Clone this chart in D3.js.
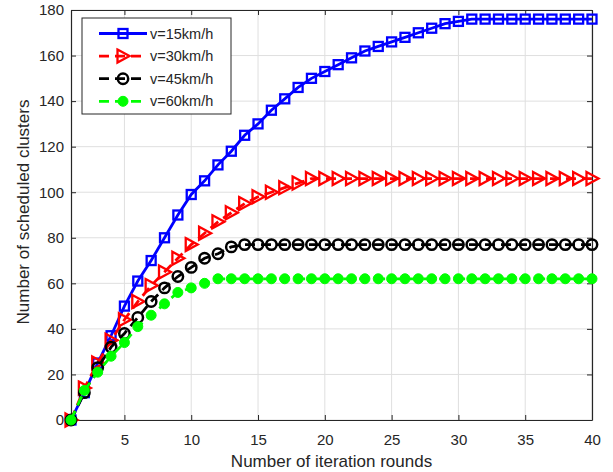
<!DOCTYPE html>
<html>
<head>
<meta charset="utf-8">
<script src="https://cdn.jsdelivr.net/npm/d3@7"></script>
<style>
  body { margin: 0; background: white; }
  text { font-family: "Liberation Sans", Arial, sans-serif; }
</style>
</head>
<body>
<script>
// iteration rounds (x) and scheduled clusters for each speed
let rounds = [1,2,3,4,5,6,7,8,9,10,11,12,13,14,15,16,17,18,19,20,
              21,22,23,24,25,26,27,28,29,30,31,32,33,34,35,36,37,38,39,40];
let v15 = [0,12,25,37,50,61,70,80,90,99, 105,112,118,125,130,136,141,146,150,153,
           156,159,162,164,166,168,170,172,174,175, 176,176,176,176,176,176,176,176,176,176];
let v30 = [0,14,25,35,44,52,59,65,71,77, 82,87,91,95,98,100,102,104,106,106,
           106,106,106,106,106,106,106,106,106,106, 106,106,106,106,106,106,106,106,106,106];
let v45 = [0,12,23,32,38,45,52,58,63,67, 71,73,76,77,77,77,77,77,77,77,
           77,77,77,77,77,77,77,77,77,77, 77,77,77,77,77,77,77,77,77,77];
let v60 = [0,13,21,28,34,41,46,51,56,58, 60,62,62,62,62,62,62,62,62,62,
           62,62,62,62,62,62,62,62,62,62, 62,62,62,62,62,62,62,62,62,62];
let seriesNames = ["v=15km/h", "v=30km/h", "v=45km/h", "v=60km/h"];
let xTicks = [5,10,15,20,25,30,35,40];
let yTicks = [0,20,40,60,80,100,120,140,160,180];

let width = 613, height = 472;
let plotLeft = 71, plotRight = 592, plotTop = 10, plotBottom = 420;

let series = [
  {name: seriesNames[0], values: v15, color: "#0000ff", dash: null, marker: "square"},
  {name: seriesNames[1], values: v30, color: "#ff0000", dash: "10,6", marker: "triangle"},
  {name: seriesNames[2], values: v45, color: "#000000", dash: "10,6", marker: "circle"},
  {name: seriesNames[3], values: v60, color: "#00ff00", dash: "10,6", marker: "dot"}
];

let svg = d3.select("body").append("svg")
    .attr("width", width)
    .attr("height", height)
    .style("background-color", "white");

let x = d3.scaleLinear().domain([1, 40]).range([plotLeft, plotRight]);
let y = d3.scaleLinear().domain([0, 180]).range([plotBottom, plotTop]);

// grid
svg.append("g").selectAll("line").data(xTicks).enter().append("line")
    .attr("x1", d => x(d)).attr("x2", d => x(d))
    .attr("y1", plotTop).attr("y2", plotBottom)
    .attr("stroke", "#dfdfdf").attr("stroke-width", 1);
svg.append("g").selectAll("line").data(yTicks).enter().append("line")
    .attr("x1", plotLeft).attr("x2", plotRight)
    .attr("y1", d => y(d)).attr("y2", d => y(d))
    .attr("stroke", "#dfdfdf").attr("stroke-width", 1);

// axes (ticks inside, box on)
let axisColor = "#262626";
let xAxis = svg.append("g").attr("transform", "translate(0," + plotBottom + ")")
    .call(d3.axisBottom(x).tickValues(xTicks).tickSizeInner(-5).tickSizeOuter(0).tickPadding(14));
let yAxis = svg.append("g").attr("transform", "translate(" + plotLeft + ",0)")
    .call(d3.axisLeft(y).tickValues(yTicks).tickSizeInner(-5).tickSizeOuter(0).tickPadding(7));
let xTop = svg.append("g").attr("transform", "translate(0," + plotTop + ")")
    .call(d3.axisTop(x).tickValues(xTicks).tickSizeInner(-5).tickSizeOuter(0).tickFormat(""));
let yRight = svg.append("g").attr("transform", "translate(" + plotRight + ",0)")
    .call(d3.axisRight(y).tickValues(yTicks).tickSizeInner(-5).tickSizeOuter(0).tickFormat(""));
[xAxis, yAxis, xTop, yRight].forEach(function (g) {
    g.select(".domain").attr("stroke", axisColor).attr("stroke-width", 1.2);
    g.selectAll(".tick line").attr("stroke", axisColor);
    g.selectAll("text").attr("fill", axisColor).style("font-size", "15px")
        .style("font-family", "'Liberation Sans', Arial, sans-serif");
});

// axis labels
svg.append("text").attr("x", (plotLeft + plotRight) / 2).attr("y", 466.5)
    .attr("text-anchor", "middle").attr("fill", axisColor).style("font-size", "17px")
    .text("Number of iteration rounds");
svg.append("text").attr("transform", "translate(28.5,212) rotate(-90)")
    .attr("text-anchor", "middle").attr("fill", axisColor).style("font-size", "17px")
    .text("Number of scheduled clusters");

function drawMarker(g, type, color, cx, cy) {
    if (type == "square") {
        g.append("rect").attr("x", cx - 4.5).attr("y", cy - 4.5).attr("width", 9).attr("height", 9)
            .attr("fill", "none").attr("stroke", color).attr("stroke-width", 2.3);
    } else if (type == "triangle") {
        g.append("path").attr("d", "M" + (cx - 5.5) + "," + (cy - 6.5) + "L" + (cx + 6.5) + "," + cy +
                "L" + (cx - 5.5) + "," + (cy + 6.5) + "Z")
            .attr("fill", "none").attr("stroke", color).attr("stroke-width", 2.3);
    } else if (type == "circle") {
        g.append("circle").attr("cx", cx).attr("cy", cy).attr("r", 5.2)
            .attr("fill", "none").attr("stroke", color).attr("stroke-width", 2.5);
    } else {
        g.append("circle").attr("cx", cx).attr("cy", cy).attr("r", 5)
            .attr("fill", color).attr("stroke", color).attr("stroke-width", 1);
    }
}

let line = d3.line()
    .x(function (d, i) { return x(rounds[i]); })
    .y(function (d) { return y(d); });

series.forEach(function (s) {
    let g = svg.append("g");
    g.append("path").attr("d", line(s.values))
        .attr("fill", "none").attr("stroke", s.color).attr("stroke-width", 2.8)
        .attr("stroke-dasharray", s.dash);
    s.values.forEach(function (v, i) {
        drawMarker(g, s.marker, s.color, x(rounds[i]), y(v));
    });
});

// legend
let lg = svg.append("g");
lg.append("rect").attr("x", 82).attr("y", 18).attr("width", 149).attr("height", 96)
    .attr("fill", "white").attr("stroke", axisColor).attr("stroke-width", 1);
series.forEach(function (s, i) {
    let cy = 33.5 + i * 22.6;
    lg.append("line").attr("x1", 99).attr("x2", 147).attr("y1", cy).attr("y2", cy)
        .attr("stroke", s.color).attr("stroke-width", 2.8).attr("stroke-dasharray", s.dash);
    drawMarker(lg, s.marker, s.color, 123, cy);
    lg.append("text").attr("x", 150).attr("y", cy + 5).attr("fill", axisColor)
        .style("font-size", "14.5px").text(s.name);
});
</script>
</body>
</html>
